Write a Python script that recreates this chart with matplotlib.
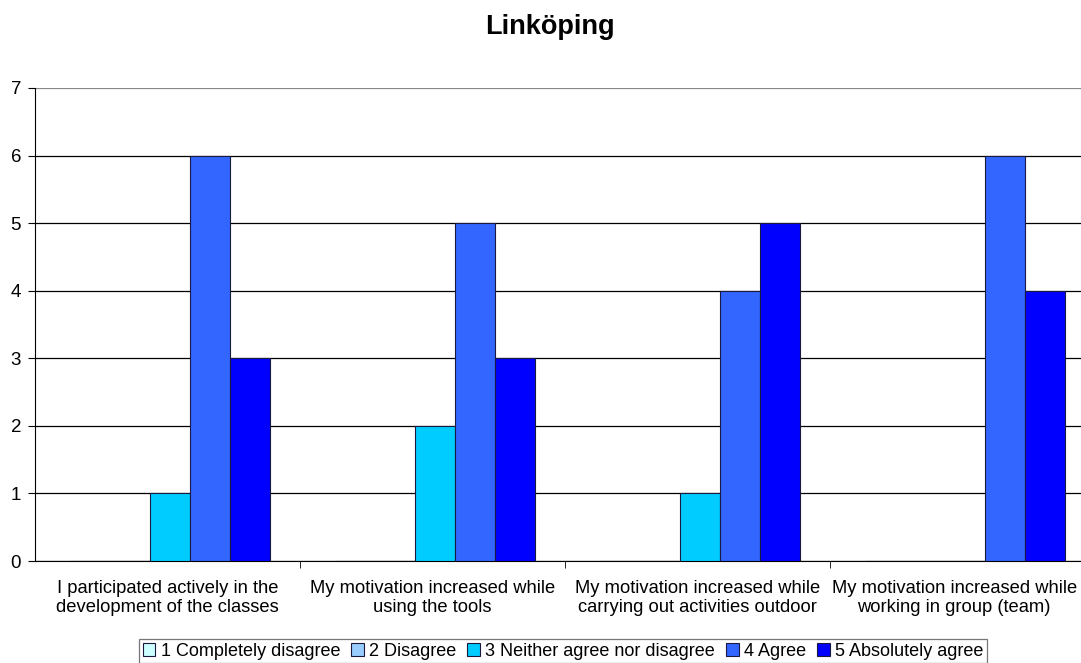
import numpy as np
import matplotlib.pyplot as plt

plt.rcParams['font.family'] = ['Liberation Sans', 'DejaVu Sans']

# Data
categories = ['I participated actively in the\ndevelopment of the classes',
              'My motivation increased while\nusing the tools',
              'My motivation increased while\ncarrying out activities outdoor',
              'My motivation increased while\nworking in group (team)']
answers = ['1 Completely disagree', '2 Disagree', '3 Neither agree nor disagree',
           '4 Agree', '5 Absolutely agree']
counts = [
    [0, 0, 0, 0],   # 1 Completely disagree
    [0, 0, 0, 0],   # 2 Disagree
    [1, 2, 1, 0],   # 3 Neither agree nor disagree
    [6, 5, 4, 6],   # 4 Agree
    [3, 3, 5, 4],   # 5 Absolutely agree
]
colors = ['#CCFFFF', '#99CCFF', '#00CCFF', '#3366FF', '#0000FF']

fig = plt.figure(figsize=(10.81, 6.63), dpi=100)
ax = fig.add_axes([35 / 1081, 102 / 663, 1060 / 1081, 473 / 663])

x = np.arange(len(categories))
w = 0.151
for i, (name, vals) in enumerate(zip(answers, counts)):
    pos = x + (i - 2) * w + 0.008
    ax.bar(pos, vals, width=w, color=colors[i], edgecolor='#1a1a40',
           linewidth=0.8, label=name, zorder=3)

ax.set_xlim(-0.5, len(categories) - 0.5)
ax.set_ylim(0, 7)
ax.set_yticks(range(0, 8))
ax.yaxis.grid(True, color='black', linewidth=0.9, zorder=0)
ax.get_ygridlines()[-1].set_color('#888888')
ax.set_axisbelow(True)

# category labels as text so the last one can be nudged inside the figure
ax.set_xticks(x)
ax.set_xticklabels([])
ax.tick_params(axis='x', length=0)
for i, lab in enumerate(categories):
    dx = -6 if i == len(categories) - 1 else 0
    ax.annotate(lab, xy=(x[i], 0), xycoords=('data', 'axes fraction'),
                xytext=(dx, -14), textcoords='offset points',
                ha='center', va='top', fontsize=13.2, linespacing=1.12)
ax.set_xticks(np.arange(0.5, len(categories) - 0.5), minor=True)
ax.tick_params(axis='x', which='minor', length=5, color='black')
ax.tick_params(axis='y', labelsize=13.5, length=5, color='black', pad=5)

for s in ['top', 'right']:
    ax.spines[s].set_visible(False)
ax.spines['left'].set_color('black')
ax.spines['bottom'].set_color('black')

fig.text(550 / 1081, 1 - 27 / 663, 'Linköping', fontsize=19.5, fontweight='bold',
         ha='center', va='center')

leg = fig.legend(loc='upper center', bbox_to_anchor=(563 / 1081, 1 - 639 / 663),
                 ncol=5, fontsize=13, frameon=True, fancybox=False,
                 edgecolor='#555555', handlelength=0.7, handleheight=0.7,
                 handletextpad=0.3, columnspacing=0.6, borderpad=0.2,
                 borderaxespad=0)
leg.get_frame().set_linewidth(0.9)

fig.savefig('out.png', dpi=100)
